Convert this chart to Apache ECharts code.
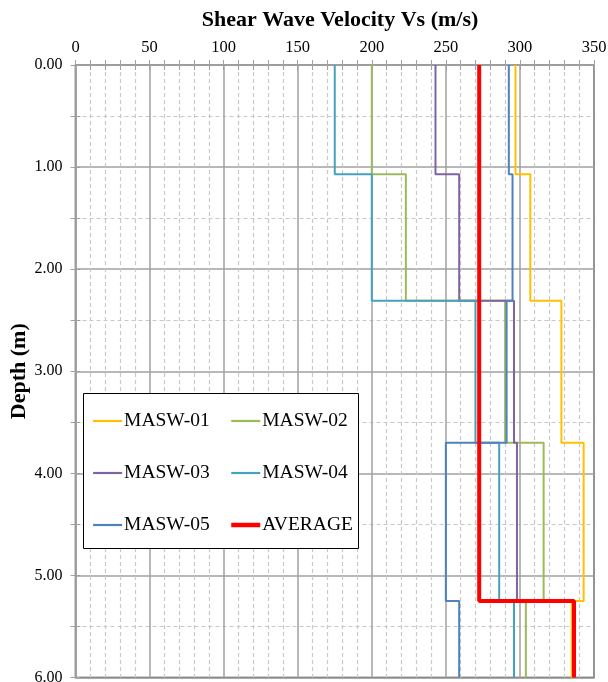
<!DOCTYPE html>
<html><head><meta charset="utf-8">
<script src="https://cdn.jsdelivr.net/npm/echarts@6/dist/echarts.min.js"></script>
<style>html,body{margin:0;padding:0;background:#fff}#c{width:608px;height:682px}</style>
</head><body><div id="c"></div>
<script>
// Layer boundaries (depth, m)
const depths = [0, 1.07, 2.31, 3.70, 5.25, 6.00];
// Layer velocities (m/s), one per layer
const masw01 = [297, 307, 328, 343, 335];
const masw02 = [200, 223, 290, 316, 304];
const masw03 = [243, 259, 296, 298];
const masw04 = [175, 200, 270, 286, 296];
const masw05 = [292.5, 295, 291, 250, 259];
const average = [272.5, 272.5, 272.5, 272.5, 336.5];
const seriesNames = ['MASW-01', 'MASW-02', 'MASW-03', 'MASW-04', 'MASW-05', 'AVERAGE'];
const xTicks = [0, 50, 100, 150, 200, 250, 300, 350];
const yTicks = ['0.00', '1.00', '2.00', '3.00', '4.00', '5.00', '6.00'];

const colors = ['#FFC000', '#9BBB59', '#8064A2', '#45A2BC', '#4F81BD', '#FF0000'];
const widths = [2, 2, 2, 2, 2, 4];

function profile(vals) {
  const pts = [];
  vals.forEach((v, i) => {
    pts.push([v, depths[i]]);
    pts.push([v, depths[i + 1]]);
  });
  return pts;
}
const all = [masw01, masw02, masw03, masw04, masw05, average];
const font = '"Liberation Serif", "Times New Roman", serif';

const chart = echarts.init(document.getElementById('c'), null, {renderer: 'canvas'});
const G = {left: 75.5, right: 14, top: 65, bottom: 4.5};
const axisLineGray = '#a0a0a0';
const legendText = {fontFamily: font, fontSize: 19.5, color: '#000', padding: [0, 0, 0, -3], lineHeight: 20};
const legendCommon = {
  orient: 'vertical', top: 411, z: 20, padding: 0,
  itemWidth: 29, itemHeight: 14, itemGap: 32, textStyle: legendText,
  itemStyle: {color: 'transparent', borderWidth: 0, opacity: 0}
};
const legendItem = i => ({name: seriesNames[i], lineStyle: {width: widths[i] === 4 ? 4.5 : 2.2}});
chart.setOption({
  animation: false,
  title: {
    text: 'Shear Wave Velocity Vs (m/s)', left: 335, top: 4, textAlign: 'center',
    textStyle: {fontFamily: font, fontWeight: 'bold', fontSize: 22, color: '#000'}
  },
  grid: Object.assign({show: true, borderColor: '#404040', borderWidth: 1.5,
    backgroundColor: 'transparent', outerBoundsMode: 'none', containLabel: false}, G),
  legend: [
    Object.assign({data: [0, 2, 4].map(legendItem), left: 92}, legendCommon),
    Object.assign({data: [1, 3, 5].map(legendItem), left: 229}, legendCommon)
  ],
  graphic: [{
    type: 'rect', left: 83, top: 393, shape: {width: 275, height: 155},
    style: {fill: '#fff', stroke: '#000', lineWidth: 1}, z: 5
  }],
  xAxis: [{
    type: 'value', position: 'top', min: 0, max: 350, interval: 50,
    axisLine: {show: true, lineStyle: {color: axisLineGray, width: 1.5}},
    axisTick: {show: true, length: 5, lineStyle: {color: axisLineGray}},
    minorTick: {show: true, splitNumber: 5, length: 5, lineStyle: {color: axisLineGray}},
    axisLabel: {fontFamily: font, fontSize: 16.5, color: '#000', margin: 9,
      formatter: v => xTicks.includes(v) ? String(v) : ''},
    splitLine: {show: true, lineStyle: {color: '#a0a0a0', width: 1.5}},
    minorSplitLine: {show: true, lineStyle: {color: '#c8c8c8', type: [4, 3], width: 1.2}}
  }, {
    type: 'value', position: 'top', min: 0, max: 350, interval: 50,
    axisLine: {show: false},
    axisTick: {show: true, inside: true, length: 5, lineStyle: {color: axisLineGray}},
    minorTick: {show: true, splitNumber: 5, length: 5, lineStyle: {color: axisLineGray}},
    axisLabel: {show: false}, splitLine: {show: false}
  }],
  yAxis: [{
    type: 'value', inverse: true, min: 0, max: 6, interval: 1,
    name: 'Depth (m)', nameLocation: 'middle', nameGap: 45, nameRotate: 90, nameMoveOverlap: false,
    nameTextStyle: {fontFamily: font, fontWeight: 'bold', fontSize: 22, color: '#000'},
    axisLine: {show: true, lineStyle: {color: axisLineGray, width: 1.5}},
    axisTick: {show: true, length: 5, lineStyle: {color: axisLineGray}},
    minorTick: {show: true, splitNumber: 2, length: 5, lineStyle: {color: axisLineGray}},
    axisLabel: {fontFamily: font, fontSize: 16, color: '#000', margin: 13,
      formatter: v => yTicks[Math.round(v)]},
    splitLine: {show: true, lineStyle: {color: '#a0a0a0', width: 1.5}},
    minorSplitLine: {show: true, lineStyle: {color: '#c8c8c8', type: [4, 3], width: 1.2}}
  }, {
    type: 'value', inverse: true, min: 0, max: 6, interval: 1, position: 'left',
    axisLine: {show: false},
    axisTick: {show: true, inside: true, length: 5, lineStyle: {color: axisLineGray}},
    minorTick: {show: true, splitNumber: 2, length: 5, lineStyle: {color: axisLineGray}},
    axisLabel: {show: false}, splitLine: {show: false}
  }],
  series: all.map((vals, i) => ({
    name: seriesNames[i], type: 'line', data: profile(vals),
    showSymbol: false, symbol: 'none', z: 3 + i * 0.01,
    lineStyle: {color: colors[i], width: widths[i]},
    itemStyle: {color: colors[i]}
  }))
});
</script></body></html>
